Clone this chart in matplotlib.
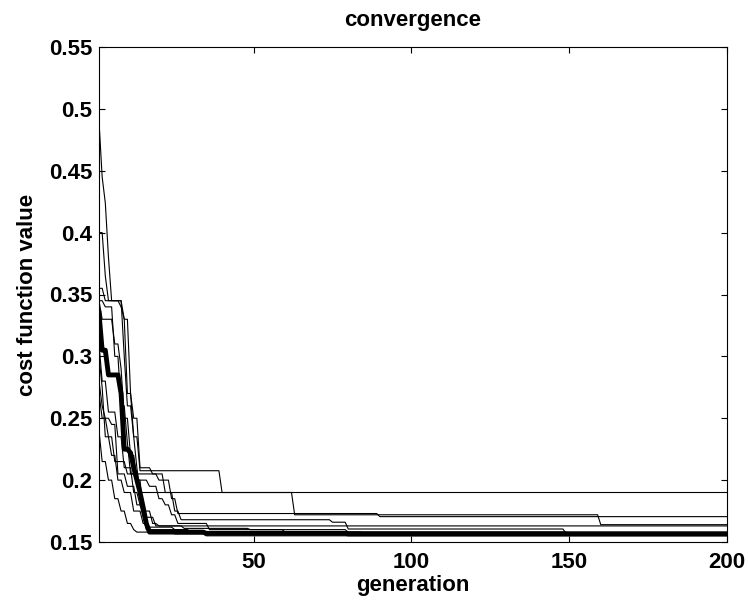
import numpy as np
import matplotlib
matplotlib.use('Agg')
import matplotlib.pyplot as plt

# best cost per generation, stored as (generation, new best value) change points
n_gen = 200

best_run = [(1, 0.335), (2, 0.305), (4, 0.285), (8, 0.27), (9, 0.225), (11, 0.222),
            (12, 0.21), (13, 0.2), (14, 0.19), (15, 0.178), (16, 0.165), (17, 0.158),
            (35, 0.157), (80, 0.1565)]

run1 = [(1, 0.355), (3, 0.345), (9, 0.33), (10, 0.27), (12, 0.235), (13, 0.21), (14, 0.19)]
run2 = [(1, 0.40), (3, 0.365), (4, 0.345), (9, 0.30), (10, 0.26), (12, 0.235), (14, 0.2076),
        (40, 0.19), (63, 0.172), (160, 0.164)]
run3 = [(1, 0.27), (2, 0.25), (4, 0.235), (6, 0.215), (10, 0.205), (20, 0.20), (24, 0.185),
        (26, 0.173), (90, 0.1705)]
run4 = [(1, 0.49), (2, 0.445), (3, 0.424), (4, 0.38), (5, 0.345), (8, 0.34), (9, 0.33),
        (11, 0.27), (12, 0.25), (14, 0.21), (18, 0.205), (22, 0.19), (25, 0.175), (27, 0.168),
        (75, 0.166), (80, 0.1605), (149, 0.157)]
run5 = [(1, 0.345), (2, 0.33), (6, 0.31), (8, 0.29), (9, 0.25), (11, 0.22), (13, 0.2),
        (15, 0.175), (18, 0.165), (20, 0.163)]
run6 = [(1, 0.24), (2, 0.215), (4, 0.20), (6, 0.185), (8, 0.175), (10, 0.165), (12, 0.16),
        (13, 0.158), (25, 0.1565), (35, 0.155)]
run7 = [(1, 0.30), (2, 0.275), (3, 0.235), (5, 0.22), (7, 0.20), (9, 0.19), (12, 0.175),
        (15, 0.165), (17, 0.162), (25, 0.16), (30, 0.158), (85, 0.156)]
run8 = [(1, 0.345), (3, 0.34), (6, 0.30), (8, 0.26), (10, 0.23), (11, 0.205), (13, 0.20),
        (17, 0.195), (20, 0.185), (22, 0.18), (24, 0.172), (26, 0.165), (36, 0.16), (60, 0.158)]
run9 = [(1, 0.31), (2, 0.28), (4, 0.255), (7, 0.235), (9, 0.21), (12, 0.19), (14, 0.18),
        (15, 0.17), (16, 0.16), (30, 0.1575)]
run10 = [(1, 0.28), (2, 0.26), (3, 0.25), (5, 0.245), (7, 0.205), (10, 0.195), (13, 0.18),
         (16, 0.17), (19, 0.163), (28, 0.161), (49, 0.16), (80, 0.158), (150, 0.157)]

thin_runs = [run1, run2, run3, run4, run5, run6, run7, run8, run9, run10]

yticks = [0.15, 0.2, 0.25, 0.3, 0.35, 0.4, 0.45, 0.5, 0.55]
ytick_labels = ['0.15', '0.2', '0.25', '0.3', '0.35', '0.4', '0.45', '0.5', '0.55']
xticks = [50, 100, 150, 200]


def expand(changes):
    # best-so-far value held until the next improvement
    vals = np.empty(n_gen)
    for g, v in changes:
        vals[g - 1:] = v
    return vals


plt.rcParams['font.family'] = ['Liberation Sans', 'DejaVu Sans']
plt.rcParams['font.weight'] = 'bold'

fig = plt.figure(figsize=(7.48, 6.02), dpi=100)
ax = fig.add_axes([99 / 748, 60 / 602, 628 / 748, 495 / 602])

gens = np.arange(1, n_gen + 1)
for r in thin_runs:
    ax.plot(gens, expand(r), color='black', lw=0.8)
ax.plot(gens, expand(best_run), color='black', lw=3.5)

ax.set_xlim(1, 200)
ax.set_ylim(0.15, 0.55)
ax.set_xticks(xticks)
ax.set_yticks(yticks)
ax.set_yticklabels(ytick_labels)
ax.tick_params(direction='in', length=4.5, width=0.8, top=True, right=True,
               labelsize=16)
ax.tick_params(axis='x', pad=7)
ax.tick_params(axis='y', pad=5)
for lab in ax.get_xticklabels() + ax.get_yticklabels():
    lab.set_fontweight('bold')
for s in ax.spines.values():
    s.set_linewidth(0.8)

ax.set_title('convergence', fontsize=16, fontweight='bold', pad=15)
ax.set_xlabel('generation', fontsize=16, fontweight='bold', labelpad=2)
ax.set_ylabel('cost function value', fontsize=16, fontweight='bold', labelpad=8)

fig.savefig('out.png', dpi=100)
